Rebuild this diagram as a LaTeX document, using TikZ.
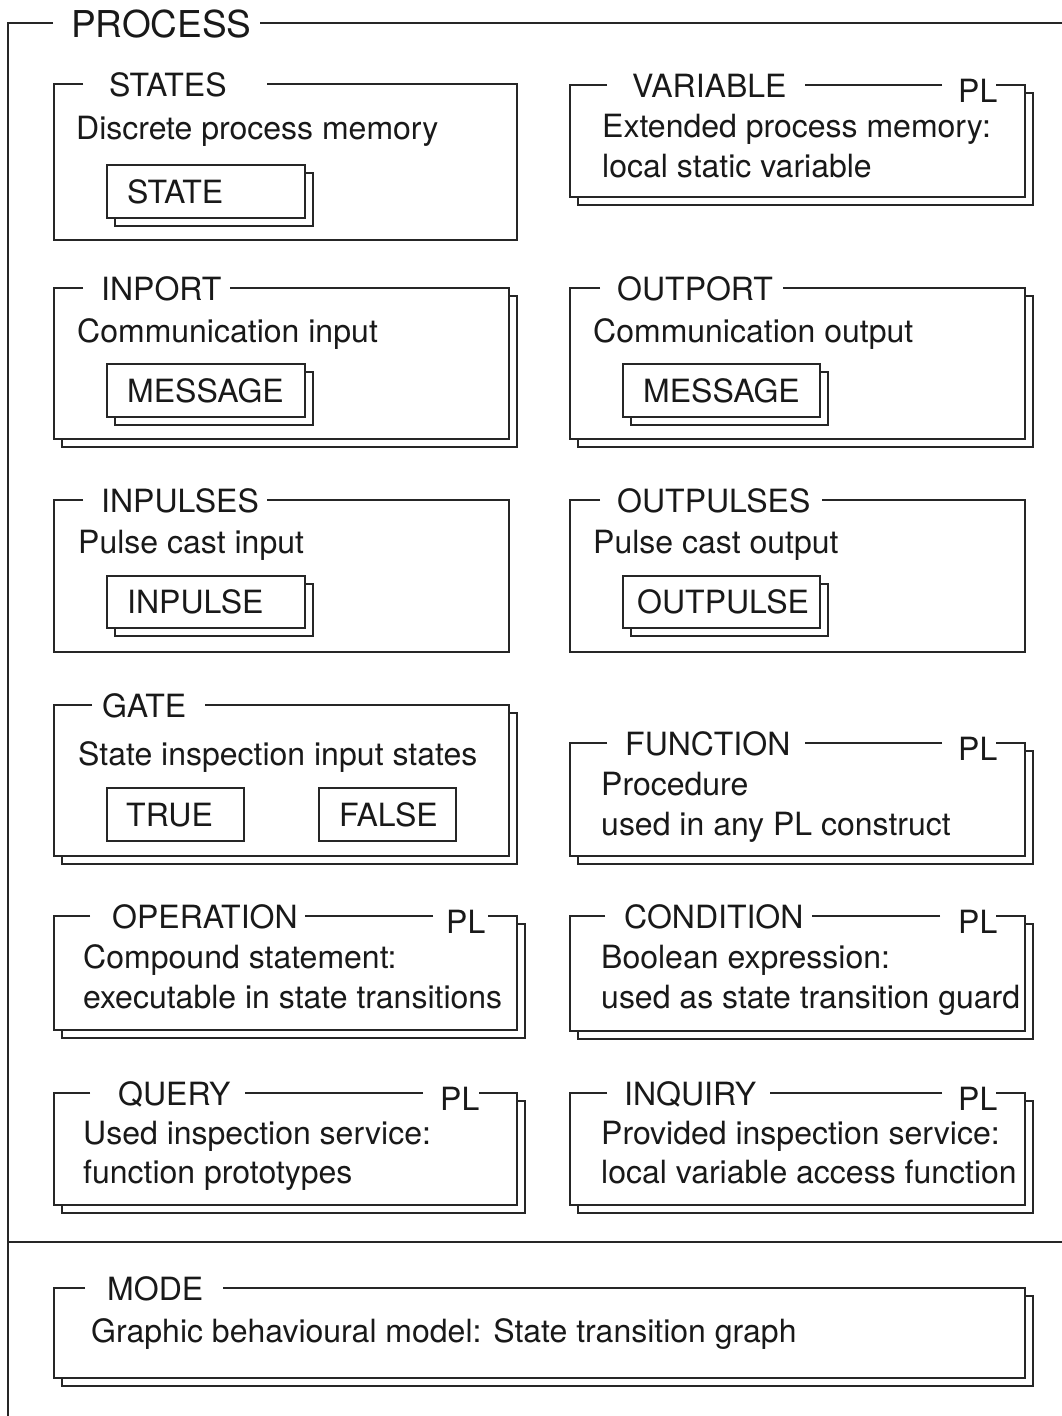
\documentclass[tikz,border=0pt]{standalone}
\usepackage{fontspec}
\setmainfont{TeX Gyre Heros}
% shadow rectangle behind a frame: x1 y1 x2 y2
\newcommand{\shadowrect}[4]{\draw[frame,fill=white] ({#1+8},{#2+8}) rectangle ({#3+8},{#4+8});}
% plain rectangle
\newcommand{\plainrect}[4]{\draw[frame,fill=white] (#1,#2) rectangle (#3,#4);}
% frame with one title gap: x1 y1 x2 y2 g1 g2
\newcommand{\titledrect}[6]{\fill[white] (#1,#2) rectangle (#3,#4);
  \draw[frame] (#5,#2) -- (#1,#2) -- (#1,#4) -- (#3,#4) -- (#3,#2) -- (#6,#2);}
% frame with title gap and PL gap: x1 y1 x2 y2 g1 g2 p1 p2
\newcommand{\titledrectpl}[8]{\fill[white] (#1,#2) rectangle (#3,#4);
  \draw[frame] (#5,#2) -- (#1,#2) -- (#1,#4) -- (#3,#4) -- (#3,#2) -- (#8,#2) (#7,#2) -- (#6,#2);}
\begin{document}
\begin{tikzpicture}[x=1pt,y=-1pt,
  frame/.style={line width=1.3pt, draw=black!85},
  ttl/.style={inner sep=0pt, anchor=base west, font=\fontsize{32}{38}\selectfont, text=black!90},
  body/.style={inner sep=0pt, anchor=base west, font=\fontsize{32}{38}\selectfont, text=black!90},
  big/.style={inner sep=0pt, anchor=base west, font=\fontsize{37}{44}\selectfont, text=black!90}]
\useasboundingbox (0,0) rectangle (1061,1416);
\fill[white] (0,0) rectangle (1061,1416);
% outer PROCESS frame
\draw[frame] (53,23) -- (8,23) -- (8,1420);
\draw[frame] (260,23) -- (1065,23);
\draw[frame] (8,1242) -- (1065,1242);
\node[big] (process) at (71,37) {PROCESS};

% STATES
\titledrect{54}{84}{517}{240}{83}{267}
\node[ttl] (states) at (109,96.5) {STATES};
\node[body] (statesd) at (76,139) {Discrete process memory};
\shadowrect{107}{165}{305}{218}
\plainrect{107}{165}{305}{218}
\node[body] (state) at (127,203) {STATE};

% VARIABLE
\shadowrect{570}{85}{1025}{197}
\titledrectpl{570}{85}{1025}{197}{607}{805}{942}{996}
\node[ttl] (variable) at (632,97.5) {VARIABLE};
\node[ttl] (varpl) at (958,102.5) {PL};
\node[body] (vard1) at (602,137) {Extended process memory:};
\node[body] (vard2) at (602,177) {local static variable};

% INPORT
\shadowrect{54}{288}{509}{439}
\titledrect{54}{288}{509}{439}{83}{230}
\node[ttl] (inport) at (101,300.5) {INPORT};
\node[body] (inportd) at (77,342) {Communication input};
\shadowrect{107}{364}{305}{417}
\plainrect{107}{364}{305}{417}
\node[body] (msgin) at (127,402) {MESSAGE};

% OUTPORT
\shadowrect{570}{288}{1025}{439}
\titledrect{570}{288}{1025}{439}{600}{783}
\node[ttl] (outport) at (617,300.5) {OUTPORT};
\node[body] (outportd) at (593,342) {Communication output};
\shadowrect{623}{364}{820}{417}
\plainrect{623}{364}{820}{417}
\node[body] (msgout) at (643,402) {MESSAGE};

% INPULSES
\titledrect{54}{500}{509}{652}{83}{267}
\node[ttl] (inpulses) at (101,512.5) {INPULSES};
\node[body] (inpulsesd) at (78,553) {Pulse cast input};
\shadowrect{107}{576}{305}{628}
\plainrect{107}{576}{305}{628}
\node[body] (inpulse) at (127,613.5) {INPULSE};

% OUTPULSES
\titledrect{570}{500}{1025}{652}{600}{822}
\node[ttl] (outpulses) at (617,512.5) {OUTPULSES};
\node[body] (outpulsesd) at (593,553) {Pulse cast output};
\shadowrect{623}{576}{820}{628}
\plainrect{623}{576}{820}{628}
\node[body] (outpulse) at (637,613.5) {OUTPULSE};

% GATE
\shadowrect{54}{705}{509}{856}
\titledrect{54}{705}{509}{856}{92}{205}
\node[ttl] (gate) at (102,717.5) {GATE};
\node[body] (gated) at (78,765) {State inspection input states};
\plainrect{107}{788}{244}{841}
\node[body] (true) at (126,826) {TRUE};
\plainrect{319}{788}{456}{841}
\node[body] (false) at (339,826) {FALSE};

% FUNCTION
\shadowrect{570}{743}{1025}{856}
\titledrectpl{570}{743}{1025}{856}{607}{805}{942}{996}
\node[ttl] (function) at (625,755.5) {FUNCTION};
\node[ttl] (funpl) at (958,760.5) {PL};
\node[body] (fund1) at (601,795) {Procedure};
\node[body] (fund2) at (601,835) {used in any PL construct};

% OPERATION
\shadowrect{54}{916}{517}{1030}
\titledrectpl{54}{916}{517}{1030}{90}{305}{433}{488}
\node[ttl] (operation) at (112,928.5) {OPERATION};
\node[ttl] (oppl) at (446,933.5) {PL};
\node[body] (opd1) at (83,968) {Compound statement:};
\node[body] (opd2) at (83,1008) {executable in state transitions};

% CONDITION
\shadowrect{570}{916}{1025}{1031}
\titledrectpl{570}{916}{1025}{1031}{605}{812}{940}{996}
\node[ttl] (condition) at (624,928.5) {CONDITION};
\node[ttl] (condpl) at (958,933.5) {PL};
\node[body] (condd1) at (601,968) {Boolean expression:};
\node[body] (condd2) at (601,1008) {used as state transition guard};

% QUERY
\shadowrect{54}{1093}{517}{1205}
\titledrectpl{54}{1093}{517}{1205}{90}{245}{423}{479}
\node[ttl] (query) at (118,1105.5) {QUERY};
\node[ttl] (querypl) at (440,1110.5) {PL};
\node[body] (queryd1) at (83,1144) {Used inspection service:};
\node[body] (queryd2) at (83,1183) {function prototypes};

% INQUIRY
\shadowrect{570}{1093}{1025}{1205}
\titledrectpl{570}{1093}{1025}{1205}{607}{770}{942}{996}
\node[ttl] (inquiry) at (624,1105.5) {INQUIRY};
\node[ttl] (inqpl) at (958,1110.5) {PL};
\node[body] (inqd1) at (601,1144) {Provided inspection service:};
\node[body] (inqd2) at (601,1183) {local variable access function};

% MODE
\shadowrect{54}{1288}{1025}{1378}
\titledrect{54}{1288}{1025}{1378}{85}{223}
\node[ttl] (mode) at (107,1300.5) {MODE};
\node[body] (moded) at (91,1342) {Graphic behavioural model: State transition graph};
\end{tikzpicture}
\end{document}
